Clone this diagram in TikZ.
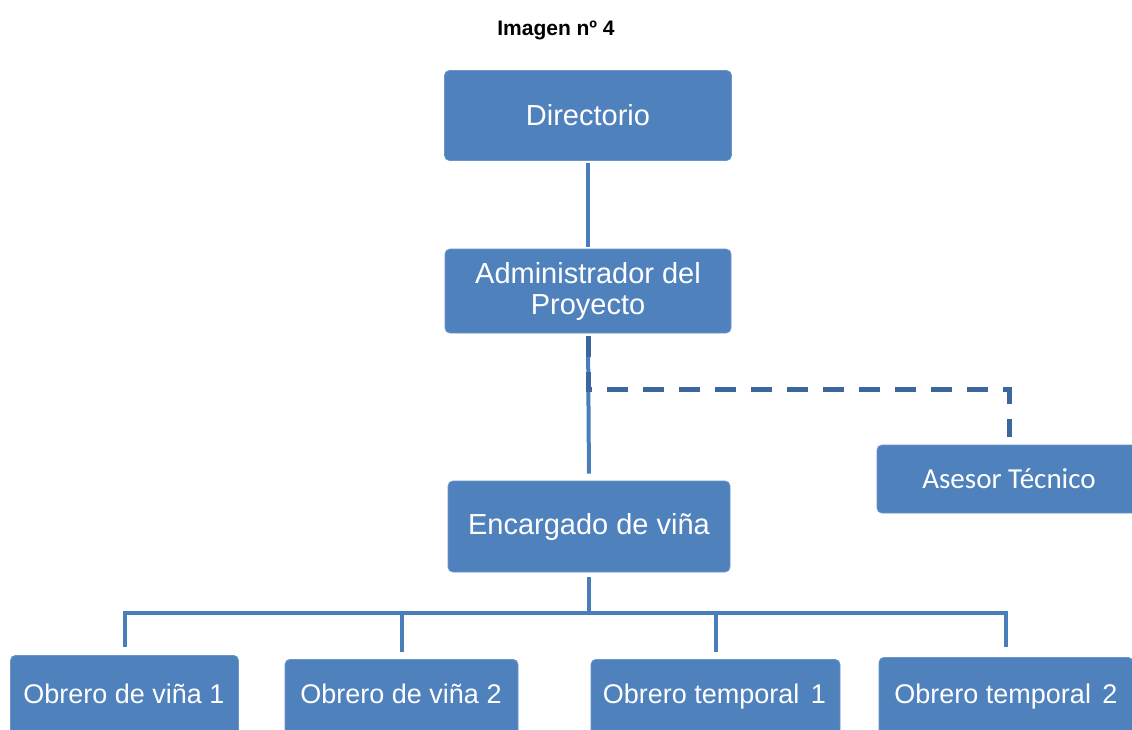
\documentclass[tikz,border=0pt]{standalone}
\usepackage{fontspec}
\setmainfont{Liberation Sans}
\newfontfamily\calib{Carlito}
\definecolor{boxblue}{HTML}{4F81BD}
\definecolor{boxedge}{HTML}{6A95C9}
\definecolor{linkblue}{HTML}{4A7EBB}
\definecolor{dashblue}{HTML}{3C679E}
\begin{document}
\begin{tikzpicture}[x=1pt,y=-1pt,
  orgbox/.style={rectangle, rounded corners=5pt, fill=boxblue, draw=boxedge, line width=0.8pt,
    text=white, align=center, inner sep=0pt, font=\fontsize{29}{31}\selectfont},
  botbox/.style={rectangle, rounded corners=5pt, fill=boxblue, draw=boxedge, line width=0.8pt,
    anchor=north, minimum height=90pt, inner sep=0pt},
  bottxt/.style={text=white, inner sep=0pt, anchor=base, font=\fontsize{27}{29}\selectfont},
  link/.style={draw=linkblue, line width=4pt},
  dashlink/.style={draw=dashblue, line width=5pt, dash pattern=on 21pt off 15pt}]
\useasboundingbox (0,0) rectangle (1132,729);
\clip (0,0) rectangle (1132,729);
\node[font=\bfseries\fontsize{21}{23}\selectfont, inner sep=0pt] (title) at (556,30) {Imagen nº 4};
\node[orgbox, minimum width=287pt, minimum height=90pt] (dir) at (588,115.5) {Directorio};
\node[orgbox, minimum width=286pt, minimum height=84pt] (adm) at (588,291) {Administrador del\\Proyecto};
\node[orgbox, minimum width=282pt, minimum height=91pt] (enc) at (589,526.5) {Encargado de viña};
\node[orgbox, minimum width=264pt, minimum height=68pt, font=\calib\fontsize{29}{31}\selectfont] (ase) at (1009,479) {Asesor Técnico};
\node[botbox, minimum width=228pt] (o1) at (124.5,655) {};
\node[botbox, minimum width=233pt] (o2) at (401.5,659) {};
\node[botbox, minimum width=249pt] (o3) at (715.5,659) {};
\node[botbox, minimum width=254pt] (o4) at (1006,657) {};
\node[bottxt] (t1) at (124,703) {Obrero de viña 1};
\node[bottxt] (t2) at (401,703) {Obrero de viña 2};
\node[bottxt] (t3) at (714.5,703) {Obrero temporal\hspace{4pt} 1};
\node[bottxt] (t4) at (1006,703) {Obrero temporal\hspace{4pt} 2};
\coordinate (bus) at (0,613);
\draw[link, shorten <=2pt, shorten >=2pt] (dir.south) -- (adm.north);
\draw[link, shorten <=4pt, shorten >=7pt] (adm.south) -- (enc.north);
\draw[dashlink, shorten <=3pt, shorten >=8pt] (adm.south) -- ++(0,56) -| (ase.north);
\draw[link, shorten <=5pt] (enc.south) -- (enc.south |- bus);
\draw[link, shorten <=8pt] (o1.north) -- (o1.north |- bus) -| (o4.north) [shorten >=10pt];
\draw[link, shorten <=7pt] (o2.north) -- (o2.north |- bus);
\draw[link, shorten <=7pt] (o3.north) -- (o3.north |- bus);
\end{tikzpicture}
\end{document}
